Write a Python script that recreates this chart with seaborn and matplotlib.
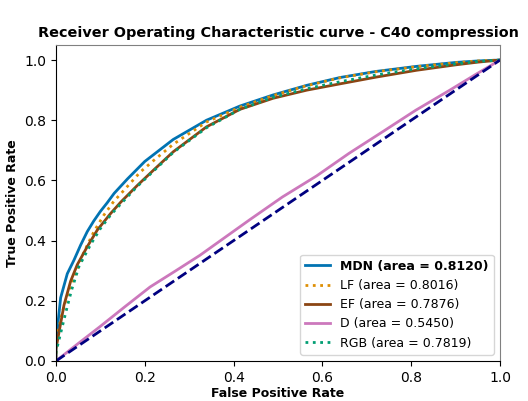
import matplotlib
matplotlib.use("Agg")
import matplotlib.pyplot as plt
import pandas as pd
import numpy as np
import seaborn as sns

# ROC points
fpr_mdn = [0, 0, 0.003, 0.0105, 0.0255, 0.0405, 0.0555, 0.0705, 0.085, 0.1, 0.115, 0.131, 0.161, 0.2, 0.264, 0.339, 0.414, 0.489, 0.565, 0.64, 0.72, 0.812, 0.9, 0.95, 1.0]
tpr_mdn = [0, 0.07, 0.105, 0.21, 0.29, 0.335, 0.385, 0.43, 0.465, 0.497, 0.525, 0.557, 0.605, 0.663, 0.736, 0.80, 0.847, 0.884, 0.916, 0.942, 0.962, 0.979, 0.992, 0.997, 1.0]

fpr_lf = [0, 0, 0.004, 0.014, 0.027, 0.0405, 0.063, 0.0855, 0.108, 0.13, 0.153, 0.19, 0.219, 0.264, 0.339, 0.414, 0.489, 0.565, 0.64, 0.72, 0.812, 0.9, 0.95, 1.0]
tpr_lf = [0, 0.05, 0.09, 0.161, 0.225, 0.277, 0.362, 0.43, 0.485, 0.53, 0.567, 0.628, 0.665, 0.72, 0.794, 0.843, 0.882, 0.915, 0.941, 0.961, 0.978, 0.991, 0.997, 1.0]

fpr_ef = [0, 0, 0.0068, 0.018, 0.033, 0.048, 0.0705, 0.093, 0.123, 0.146, 0.183, 0.221, 0.264, 0.339, 0.414, 0.489, 0.565, 0.64, 0.72, 0.812, 0.9, 0.95, 1.0]
tpr_ef = [0, 0.04, 0.095, 0.185, 0.265, 0.32, 0.38, 0.435, 0.49, 0.528, 0.583, 0.636, 0.695, 0.778, 0.836, 0.873, 0.90, 0.921, 0.943, 0.966, 0.984, 0.993, 1.0]

fpr_rgb = [0, 0, 0.0068, 0.022, 0.035, 0.052, 0.078, 0.1, 0.123, 0.146, 0.183, 0.221, 0.264, 0.339, 0.414, 0.489, 0.565, 0.64, 0.72, 0.812, 0.9, 0.95, 1.0]
tpr_rgb = [0, 0.03, 0.07, 0.161, 0.235, 0.315, 0.387, 0.44, 0.485, 0.522, 0.58, 0.633, 0.693, 0.775, 0.836, 0.876, 0.905, 0.928, 0.95, 0.971, 0.987, 0.995, 1.0]

fpr_d = [0, 0.05, 0.099, 0.155, 0.212, 0.27, 0.324, 0.38, 0.437, 0.51, 0.587, 0.66, 0.737, 0.81, 0.887, 0.945, 1.0]
tpr_d = [0, 0.058, 0.114, 0.18, 0.246, 0.30, 0.351, 0.41, 0.47, 0.545, 0.615, 0.69, 0.763, 0.833, 0.9, 0.952, 1.0]

names = ["MDN", "LF", "EF", "D", "RGB"]
areas = [0.8120, 0.8016, 0.7876, 0.5450, 0.7819]

curves = {
    "MDN": (fpr_mdn, tpr_mdn, "#0173B2", "-"),
    "LF": (fpr_lf, tpr_lf, "#DE8F05", ":"),
    "EF": (fpr_ef, tpr_ef, "#8B4513", "-"),
    "D": (fpr_d, tpr_d, "#CC78BC", "-"),
    "RGB": (fpr_rgb, tpr_rgb, "#029E73", ":"),
}

fig = plt.figure(figsize=(5.28, 4.01), dpi=100)
ax = fig.add_axes([0.106, 0.0998, 0.841, 0.788])

for name, area in zip(names, areas):
    x, y, c, ls = curves[name]
    df = pd.DataFrame({"fpr": x, "tpr": y})
    sns.lineplot(data=df, x="fpr", y="tpr", ax=ax, color=c, linestyle=ls, lw=2,
                 sort=False, estimator=None, label="%s (area = %.4f)" % (name, area))

ax.plot([0, 1], [0, 1], color="navy", lw=2, linestyle="--")

ax.set_xlim(0.0, 1.0)
ax.set_ylim(0.0, 1.05)
ax.set_xlabel("False Positive Rate", fontweight="bold", fontsize=9, labelpad=2)
ax.set_ylabel("True Positive Rate", fontweight="bold", fontsize=9)
ax.set_title("Receiver Operating Characteristic curve - C40 compression", fontweight="bold", fontsize=10.4)
for s in ["top", "right"]:
    ax.spines[s].set_color("#808080")

leg = ax.legend(loc="lower right", fontsize=9)
leg.get_texts()[0].set_fontweight("bold")

fig.savefig("out.png", dpi=100)
